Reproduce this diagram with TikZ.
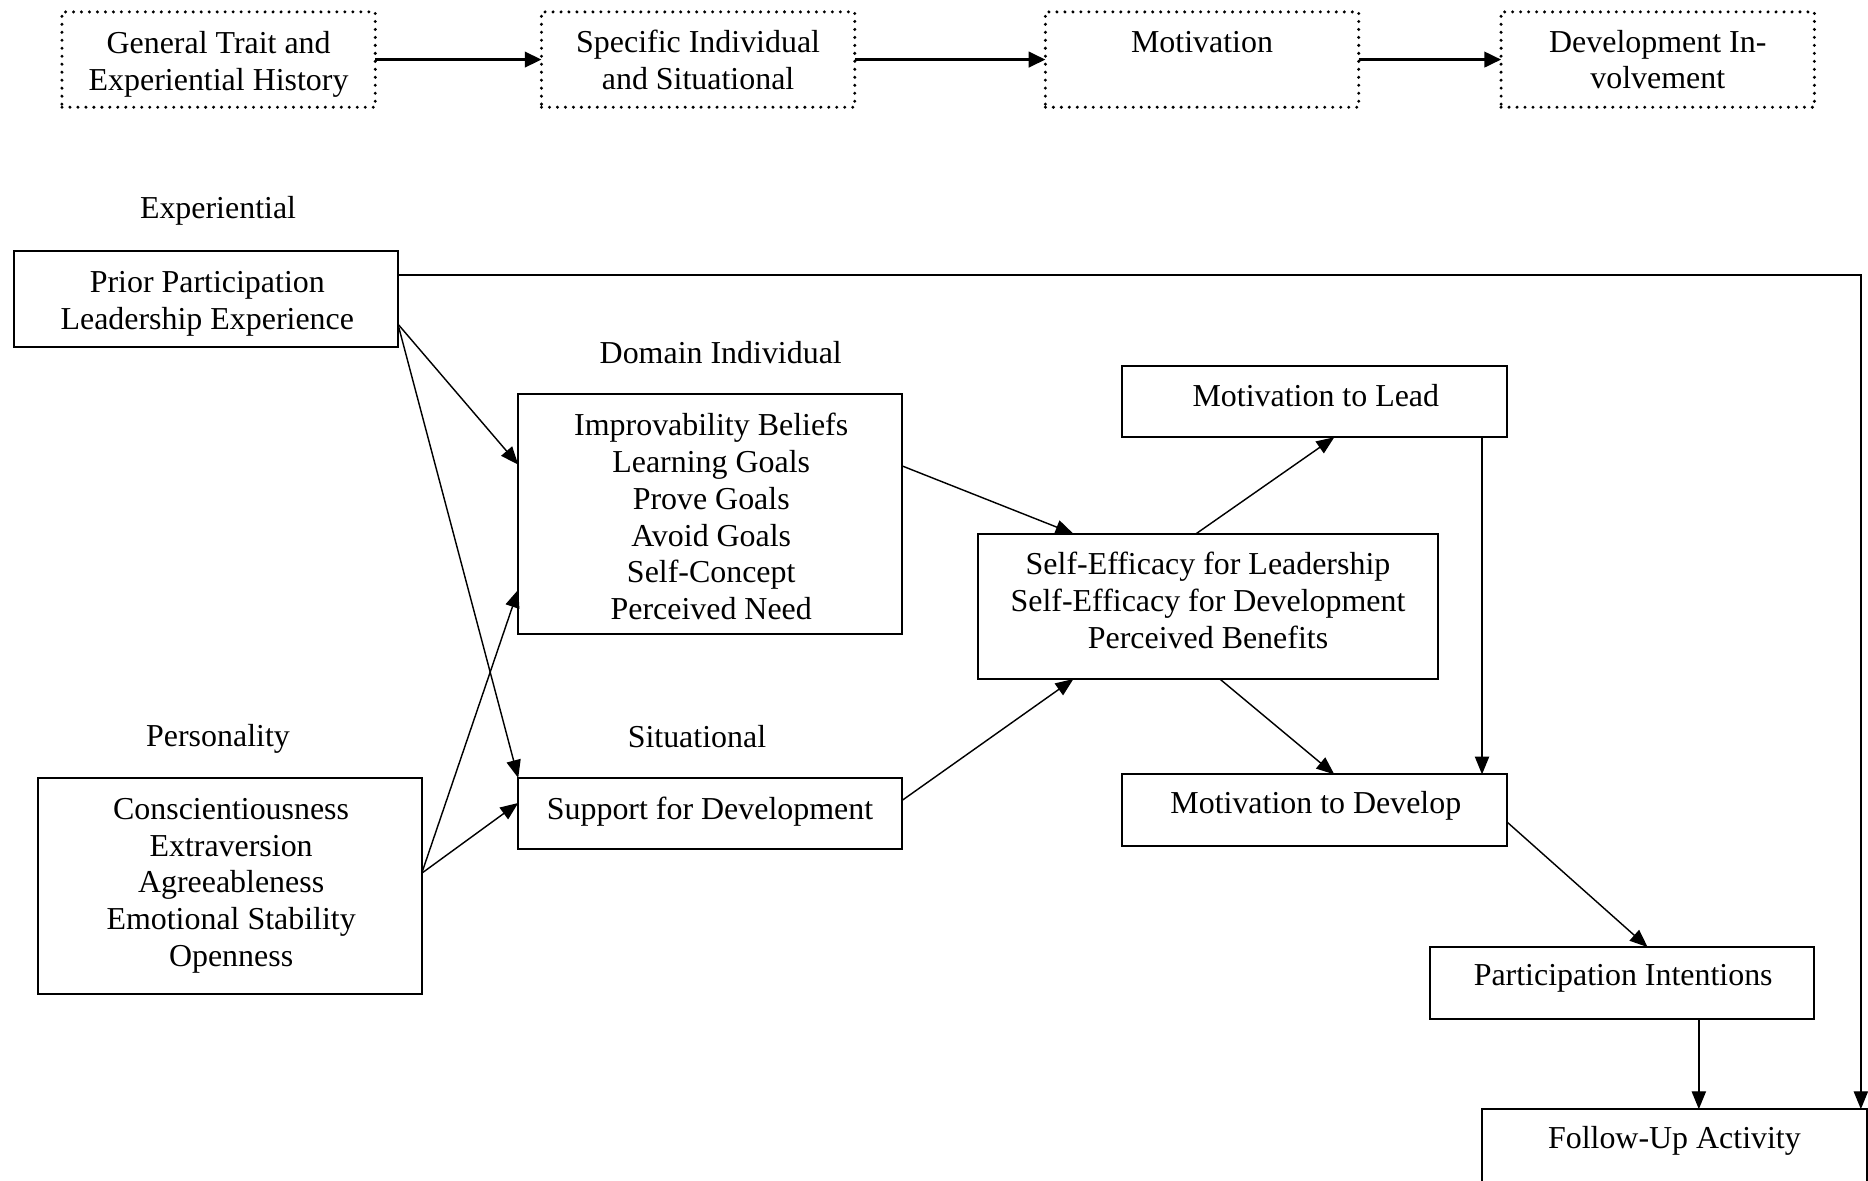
\documentclass[tikz,border=0pt]{standalone}
\usepackage{fontspec}
\setmainfont{Liberation Serif}
\usetikzlibrary{calc,arrows.meta}
\newcommand\diagfont{\fontsize{13.4}{15.5}\selectfont}
\tikzset{
  bx/.style={draw, line width=0.85pt, inner sep=0pt, outer sep=0pt},
  dotbx/.style={draw, line width=1.4pt, line cap=round, dash pattern=on 0pt off 3.35pt, inner sep=0pt, outer sep=0pt, minimum width=131.5pt, minimum height=40pt},
  txt/.style={inner sep=0pt, align=center, font=\diagfont},
  lbl/.style={inner sep=0pt, font=\diagfont},
  arr/.style={line width=0.6pt, -{Triangle[length=7.5pt,width=6pt]}},
  toparr/.style={line width=1pt, -{Triangle[length=7pt,width=6.5pt]}}
}
\begin{document}
\begin{tikzpicture}[x=0.5pt,y=-0.5pt]
\useasboundingbox (0,0) rectangle (1568,991);
\clip (0,0) rectangle (1568,991);
\fill[white] (0,0) rectangle (1568,991);
% top row
\node[dotbx] (b1) at (183.5,50) {};
\node[dotbx] (b2) at (586,50) {};
\node[dotbx] (b3) at (1009,50) {};
\node[dotbx] (b4) at (1391.5,50) {};
\node[txt] (b1t) at ($(b1.center)+(0,4)$) {General Trait and\\Experiential History};
\node[txt] (b2t) at ($(b2.center)+(0,0)$) {Specific Individual\\and Situational};
\node[txt] (b3t) at ($(b3.center)+(0,1)$) {Motivation\\\mbox{}};
\node[txt] (b4t) at ($(b4.center)+(0,0)$) {Development In-\\volvement};
\draw[toparr] (b1.east) -- (b2.west);
\draw[toparr] (b2.east) -- (b3.west);
\draw[toparr] (b3.east) -- (b4.west);
% labels
\node[lbl] (lexp) at (183,177) {Experiential};
\node[lbl] (ldom) at (605,296) {Domain Individual};
\node[lbl] (lper) at (183,620) {Personality};
\node[lbl] (lsit) at (585,618) {Situational};
% boxes
\node[bx, minimum width=161pt, minimum height=40pt] (prior) at (173,251) {};
\node[bx, minimum width=161pt, minimum height=100.5pt] (improv) at (596,431.5) {};
\node[bx, minimum width=161pt, minimum height=30pt] (support) at (596,683) {};
\node[bx, minimum width=161pt, minimum height=90.5pt] (pers) at (193,743.5) {};
\node[bx, minimum width=193pt, minimum height=61pt] (selfeff) at (1014,509) {};
\node[bx, minimum width=161.5pt, minimum height=30pt] (motlead) at (1103.5,337) {};
\node[bx, minimum width=161.5pt, minimum height=30pt] (motdev) at (1103.5,680) {};
\node[bx, minimum width=161.5pt, minimum height=30pt] (partint) at (1361.5,825) {};
\node[bx, minimum width=161.5pt, minimum height=31pt] (follow) at (1405.5,962) {};
% box texts
\node[txt] (priort) at ($(prior.center)+(1,4)$) {Prior Participation\\Leadership Experience};
\node[txt] (improvt) at ($(improv.center)+(1,2)$) {Improvability Beliefs\\Learning Goals\\Prove Goals\\Avoid Goals\\Self-Concept\\Perceived Need};
\node[txt] (supportt) at ($(support.center)+(0,-2)$) {Support for Development};
\node[txt] (perst) at ($(pers.center)+(1,0)$) {Conscientiousness\\Extraversion\\Agreeableness\\Emotional Stability\\Openness};
\node[txt] (selfefft) at ($(selfeff.center)+(0,-5)$) {Self-Efficacy for Leadership\\Self-Efficacy for Development\\Perceived Benefits};
\node[txt] (motleadt) at ($(motlead.center)+(1,-5)$) {Motivation to Lead};
\node[txt] (motdevt) at ($(motdev.center)+(1,-4)$) {Motivation to Develop};
\node[txt] (partintt) at ($(partint.center)+(1,-4)$) {Participation Intentions};
\node[txt] (followt) at ($(follow.center)+(0,-4)$) {Follow-Up Activity};
% connectors
\draw[arr] ($(prior.north east)+(0,20)$) -| ($(follow.north east)+(-5,0)$);
\draw[arr] ($(prior.north east)+(0,61)$) -- ($(improv.north west)+(0,59)$);
\draw[arr] ($(prior.north east)+(0,61)$) -- (support.north west);
\draw[arr] ($(pers.north east)+(0,80)$) -- ($(improv.north west)+(0,164)$);
\draw[arr] ($(pers.north east)+(0,80)$) -- ($(support.north west)+(0,21)$);
\draw[arr] ($(improv.north east)+(0,60)$) -- ($(selfeff.north west)+(80,0)$);
\draw[arr] ($(support.north east)+(0,19)$) -- ($(selfeff.south west)+(80,0)$);
\draw[arr] ($(selfeff.north west)+(183,0)$) -- ($(motlead.south west)+(178,0)$);
\draw[arr] ($(selfeff.south west)+(203,0)$) -- ($(motdev.north west)+(178,0)$);
\draw[arr] ($(motlead.south west)+(302,0)$) -- ($(motdev.north west)+(302,0)$);
\draw[arr] ($(motdev.north east)+(0,40)$) -- ($(partint.north west)+(183,0)$);
\draw[arr] ($(partint.south west)+(226,0)$) -- ($(follow.north west)+(182,0)$);
\end{tikzpicture}
\end{document}
